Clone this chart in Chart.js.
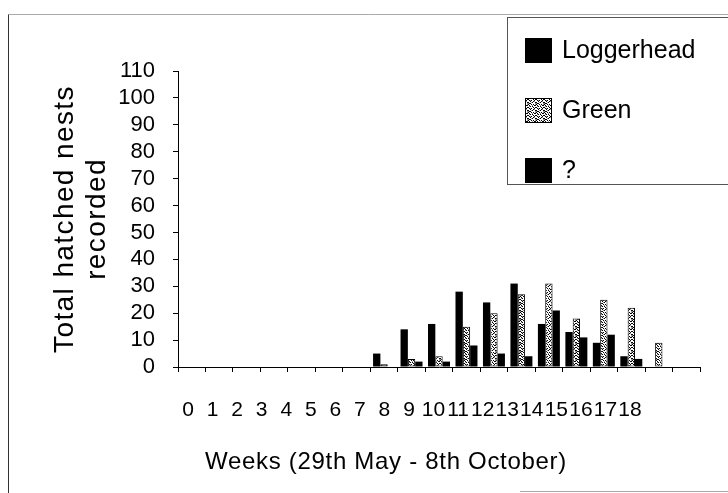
<!DOCTYPE html>
<html>
<head>
<meta charset="utf-8">
<script src="https://cdn.jsdelivr.net/npm/chart.js@4.4.0/dist/chart.umd.min.js"></script>
<style>
html,body{margin:0;padding:0;background:#fff;}
#wrap{width:728px;height:493px;position:relative;}
</style>
</head>
<body>
<div id="wrap"><canvas id="c" width="728" height="493"></canvas></div>
<script>
// ---- data ----
const weeks = ['0','1','2','3','4','5','6','7','8','9','10','11','12','13','14','15','16','17','18'];
const loggerhead = [0,0,0,0,0,0,0,5,14,16,28,24,31,16,13,9,4,0,0];
const green      = [0,0,0,0,0,0,0,1,3,4,15,20,27,31,18,25,22,9,0];
const unknown    = [0,0,0,0,0,0,0,0,2,2,8,5,4,21,11,12,3,0,0];
const yTicks = [0,10,20,30,40,50,60,70,80,90,100,110];
const seriesNames = ['Loggerhead','Green','?'];
const yTitle = ['Total hatched nests','recorded'];
const xTitle = 'Weeks (29th May - 8th October)';

const FONT = "'Liberation Sans', Arial, sans-serif";

// speckled fill for the "Green" series (fixed 8x8 tile)
function makeSpeckle(){
  const tile = [
    '10010100',
    '01000011',
    '00101000',
    '10000101',
    '01010010',
    '00100100',
    '10001001',
    '01100000'
  ];
  const pc = document.createElement('canvas');
  pc.width = 8; pc.height = 8;
  const g = pc.getContext('2d');
  g.fillStyle = '#fff'; g.fillRect(0,0,8,8);
  tile.forEach((row, y) => row.split('').forEach((c, x) => {
    if (c === '1') { g.fillStyle = '#000'; g.fillRect(x,y,1,1); }
    else if ((x + 3*y) % 7 === 0) { g.fillStyle = '#999'; g.fillRect(x,y,1,1); }
  }));
  return document.getElementById('c').getContext('2d').createPattern(pc,'repeat');
}
const speckle = makeSpeckle();

const frameAndLegend = {
  id: 'frameAndLegend',
  beforeDraw(chart){
    const ctx = chart.ctx;
    if (!ctx.__wrapped) {
      const orig = ctx.fillText.bind(ctx);
      ctx.fillText = function(t, x, y, w){
        if (t === xTitle) {
          ctx.letterSpacing = '0.7px'; orig(t, x - 53, y); ctx.letterSpacing = '0px';
        } else if (yTitle.includes(t)) {
          ctx.letterSpacing = '1.4px'; orig(t, x, y); ctx.letterSpacing = '0px';
        } else if (w === undefined) {
          orig(t, x, y);
        } else {
          orig(t, x, y, w);
        }
      };
      ctx.__wrapped = true;
    }
    ctx.save();
    ctx.fillStyle = '#fff';
    ctx.fillRect(0,0,chart.width,chart.height);
    ctx.lineWidth = 1;
    ctx.strokeStyle = '#aaa';
    ctx.beginPath();
    ctx.moveTo(8.5,14.5); ctx.lineTo(728,14.5);
    ctx.moveTo(520,491.5); ctx.lineTo(728,491.5);
    ctx.stroke();
    ctx.strokeStyle = '#333';
    ctx.beginPath();
    ctx.moveTo(8.5,14.5); ctx.lineTo(8.5,493);
    ctx.stroke();
    ctx.restore();
  },
  afterDraw(chart){
    const ctx = chart.ctx;
    ctx.save();
    ctx.fillStyle = '#fff';
    ctx.fillRect(507.5,17.5,230,167);
    ctx.strokeStyle = '#555';
    ctx.lineWidth = 1;
    ctx.strokeRect(507.5,17.5,230,167);
    ctx.font = '25px ' + FONT;
    ctx.textBaseline = 'middle';
    chart.data.datasets.forEach((ds, i) => {
      const top = 38 + i*60;
      ctx.fillStyle = ds.backgroundColor;
      ctx.fillRect(525, top, 27, 25);
      ctx.strokeStyle = '#000';
      ctx.strokeRect(525.5, top+0.5, 26, 24);
      ctx.fillStyle = '#000';
      ctx.fillText(ds.label, 562, top + 13);
    });
    ctx.restore();
  }
};

new Chart(document.getElementById('c'), {
  type: 'bar',
  data: {
    labels: weeks,
    datasets: [
      {label: seriesNames[0], data: loggerhead, backgroundColor: '#000', borderColor:'#000', borderWidth: 0},
      {label: seriesNames[1], data: green, backgroundColor: speckle, borderColor:'#000',
        borderWidth: c => (c.raw > 0 ? 1 : 0)},
      {label: seriesNames[2], data: unknown, backgroundColor: '#000', borderColor:'#000', borderWidth: 0}
    ]
  },
  options: {
    responsive: false,
    animation: false,
    devicePixelRatio: 1,
    layout: {padding: {left: 0, top: 71, right: 28, bottom: 0}},
    datasets: {bar: {categoryPercentage: 0.8, barPercentage: 1.0, borderSkipped: false}},
    plugins: {legend: {display: false}, tooltip: {enabled: false}},
    scales: {
      x: {
        type: 'category',
        position: 'bottom',
        weight: 0,
        offset: true,
        grid: {display: true, drawOnChartArea: false, drawTicks: true, tickLength: 5, offset: true, color: '#000'},
        border: {display: true, color: '#000', width: 1},
        ticks: {display: false},
        afterFit(s){ s.height = 6; }
      },
      xl: {
        type: 'linear',
        position: 'bottom',
        weight: 1,
        offset: false,
        bounds: 'data',
        min: -0.4072,
        max: 20.851,
        grid: {display: false, drawTicks: false, offset: false},
        border: {display: false},
        afterBuildTicks(s){
          s.min = -0.4072; s.max = 20.851;
          s.ticks = weeks.map((w, i) => ({value: i}));
        },
        ticks: {
          autoSkip: false, maxRotation: 0, minRotation: 0, padding: 25,
          color: '#000', font: {family: FONT, size: 21},
          callback: v => weeks[v]
        },
        title: {display: true, text: xTitle, color: '#000', font: {family: FONT, size: 24}, padding: {top: 0, bottom: 16}},
        afterFit(s){ s.height = 120; }
      },
      y: {
        type: 'linear',
        position: 'left',
        min: 0, max: 110,
        afterBuildTicks(s){ s.ticks = yTicks.map(v => ({value: v})); },
        grid: {display: true, drawOnChartArea: false, drawTicks: true, tickLength: 5, color: '#000'},
        border: {display: true, color: '#000', width: 1},
        ticks: {autoSkip: false, padding: 18, color: '#000', font: {family: FONT, size: 22}},
        title: {display: true, text: yTitle, color: '#000', font: {family: FONT, size: 28, lineHeight: 1.15}, padding: {top: 49, bottom: 0}},
        afterFit(s){ s.width = 178; }
      }
    }
  },
  plugins: [frameAndLegend]
});
</script>
</body>
</html>
